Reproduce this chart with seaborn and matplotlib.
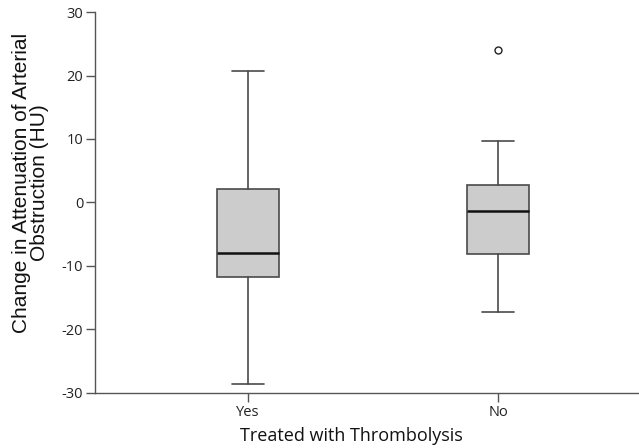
import numpy as np
import matplotlib
matplotlib.use("Agg")
import matplotlib.pyplot as plt
import seaborn as sns

# box statistics
groups = ['Yes', 'No']
whisker_low = [-28.6, -17.3]
q1 = [-11.8, -8.1]
median = [-8.0, -1.4]
q3 = [2.1, 2.8]
whisker_high = [20.7, 9.7]
outliers = [[], [24.0]]

sns.set_style("white")
plt.rcParams['font.family'] = ['Open Sans', 'DejaVu Sans']
plt.rcParams['axes.unicode_minus'] = False

fig = plt.figure(figsize=(6.39, 4.48), dpi=100)
ax = fig.add_axes([0.1487, 0.1228, 0.8513, 0.8504])

stats = []
for i, g in enumerate(groups):
    stats.append(dict(label=g, whislo=whisker_low[i], q1=q1[i], med=median[i],
                      q3=q3[i], whishi=whisker_high[i], fliers=outliers[i]))

edge = '#4a4a4a'
ax.bxp(stats, positions=range(len(groups)), widths=0.25, patch_artist=True,
       showfliers=True,
       boxprops=dict(facecolor='#cccccc', edgecolor=edge, linewidth=1.2),
       medianprops=dict(color='#111111', linewidth=1.8),
       whiskerprops=dict(color=edge, linewidth=1.2),
       capprops=dict(color=edge, linewidth=1.2),
       capwidths=0.125,
       flierprops=dict(marker='o', markersize=5, markerfacecolor='white',
                       markeredgecolor='#222222', markeredgewidth=1.0))

ax.set_xlim(-0.612, 1.564)
ax.set_ylim(-30, 30)
ax.set_yticks([-30, -20, -10, 0, 10, 20, 30])
ax.set_xticks(range(len(groups)))
ax.set_xticklabels(groups)

sns.despine(ax=ax)
for s in ['left', 'bottom']:
    ax.spines[s].set_color('#555555')
    ax.spines[s].set_linewidth(1.0)
ax.tick_params(axis='both', direction='out', length=6.5, width=1.0,
               color='#555555', labelsize=10.5, labelcolor='#222222', pad=2,
               left=True, bottom=True)

ax.set_xlabel('Treated with Thrombolysis', fontsize=13, color='#111111')
ax.xaxis.set_label_coords(0.472, -0.09)
ax.set_ylabel('Change in Attenuation of Arterial\nObstruction (HU)', fontsize=15,
              color='#111111', family=['Liberation Sans', 'DejaVu Sans'],
              linespacing=0.95)
ax.yaxis.set_label_coords(-0.085, 0.551)

fig.savefig('out.png', dpi=100)
